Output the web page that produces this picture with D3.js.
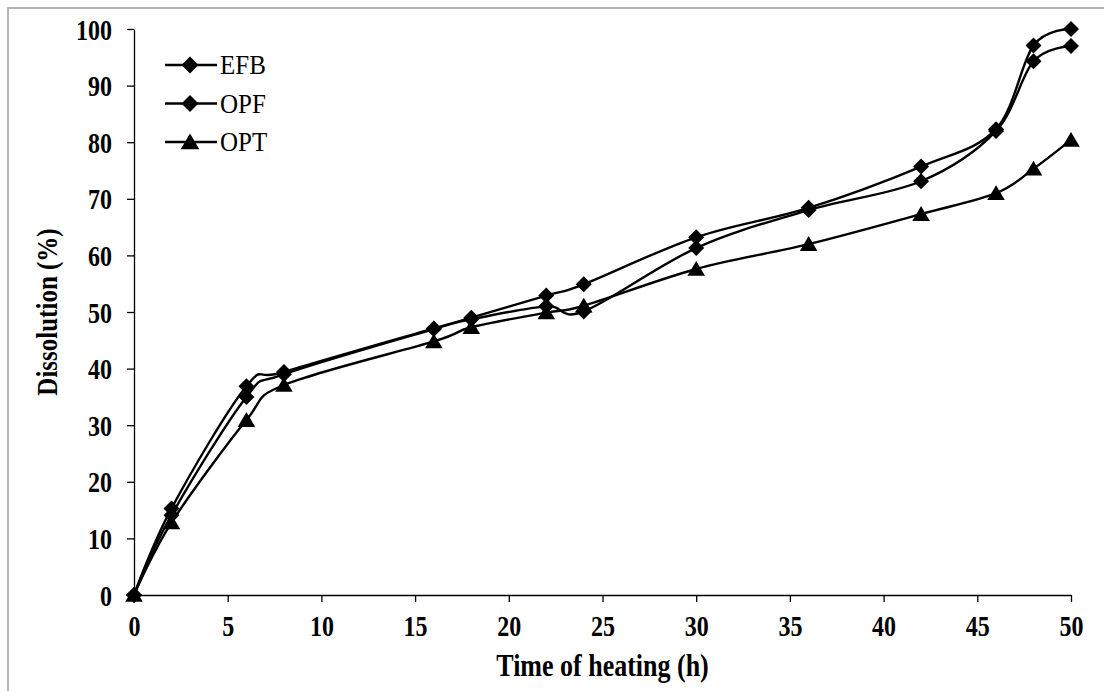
<!DOCTYPE html>
<html><head><meta charset="utf-8">
<script src="https://cdn.jsdelivr.net/npm/d3@7"></script>
<style>body{margin:0;background:#fff}svg{display:block}</style>
</head><body>
<svg id="c" width="1104" height="691"></svg>
<script>
const hours = [0,2,6,8,16,18,22,24,30,36,42,46,48,50];
const efb = [0,15.3,36.9,39.4,47.1,49.0,52.9,54.9,63.2,68.4,75.7,82.3,97.1,100];
const opf = [0,14.1,35.0,39.0,47.0,48.7,51.0,50.1,61.3,68.0,73.1,82.0,94.3,97.0];
const opt = [0,12.8,30.9,37.1,44.8,47.3,49.9,51.1,57.6,62.0,67.3,71.0,75.3,80.4];
const seriesNames = ["EFB","OPF","OPT"];
const xTicks = [0,5,10,15,20,25,30,35,40,45,50];
const yTicks = [0,10,20,30,40,50,60,70,80,90,100];

const svg = d3.select("#c");
const m = {l:134, r:1071, t:29, b:595};
const x = d3.scaleLinear().domain([0,50]).range([m.l, m.r]);
const y = d3.scaleLinear().domain([0,100]).range([m.b, m.t]);
const sy = 1.2;

svg.append("path").attr("d","M8,691 V8 H1104").attr("fill","none").attr("stroke","#b3b3b3").attr("stroke-width",2);

const font = "'Liberation Serif','Times New Roman',serif";

const xa = svg.append("g").attr("transform",`translate(0,${m.b})`)
  .call(d3.axisBottom(x).tickValues(xTicks).tickSize(7).tickSizeOuter(0));
const ya = svg.append("g").attr("transform",`translate(${m.l},0)`)
  .call(d3.axisLeft(y).tickValues(yTicks).tickSize(7).tickSizeOuter(0));
[xa,ya].forEach(a=>{
  a.select(".domain").attr("stroke","#000").attr("stroke-width",1.3);
  a.selectAll(".tick line").attr("stroke","#000").attr("stroke-width",1.3);
  a.selectAll("text").attr("font-family",font).attr("font-weight","bold").attr("font-size",24).attr("fill","#000");
});
xa.selectAll("text").attr("dy",null).attr("y",41/sy).attr("transform",`scale(1,${sy})`);
ya.selectAll("text").attr("dy","0.35em").attr("x",-22).attr("transform",`scale(1,${sy})`);

svg.append("text").attr("transform",`translate(${(m.l+m.r)/2},676) scale(1,${sy})`).attr("text-anchor","middle")
  .attr("font-family",font).attr("font-weight","bold").attr("font-size",26).text("Time of heating (h)");
svg.append("text").attr("transform",`translate(57,${(m.t+m.b)/2}) rotate(-90) scale(1,${sy})`).attr("text-anchor","middle")
  .attr("font-family",font).attr("font-weight","bold").attr("font-size",25).text("Dissolution (%)");

const data = [efb,opf,opt];
const diamond = r => `M0,${-r}L${r},0L0,${r}L${-r},0Z`;
const triangle = r => `M0,${-r}L${r*1.1},${r*0.85}L${-r*1.1},${r*0.85}Z`;
const marker = (k,r) => k==2 ? triangle(r) : diamond(r);
const line = d3.line().x((d,i)=>x(hours[i])).y(d=>y(d)).curve(d3.curveCardinal.tension(0));

data.forEach((vals)=>{
  svg.append("path").attr("d",line(vals)).attr("fill","none").attr("stroke","#000").attr("stroke-width",2.4);
});
data.forEach((vals,k)=>{
  svg.append("g").selectAll("path").data(vals).join("path")
    .attr("transform",(d,i)=>`translate(${x(hours[i])},${y(d)})`)
    .attr("d",marker(k,8)).attr("fill","#000");
});

const lg = svg.append("g");
seriesNames.forEach((n,k)=>{
  const yy = 65 + k*38.5;
  lg.append("line").attr("x1",165).attr("x2",217).attr("y1",yy).attr("y2",yy).attr("stroke","#000").attr("stroke-width",2.4);
  lg.append("path").attr("transform",`translate(190,${yy})`).attr("d",marker(k,8.5)).attr("fill","#000");
  lg.append("text").attr("transform",`translate(220,${yy}) scale(1,1.08)`).attr("dy","0.35em").attr("font-family",font).attr("font-size",25).text(n);
});
</script>
</body></html>
